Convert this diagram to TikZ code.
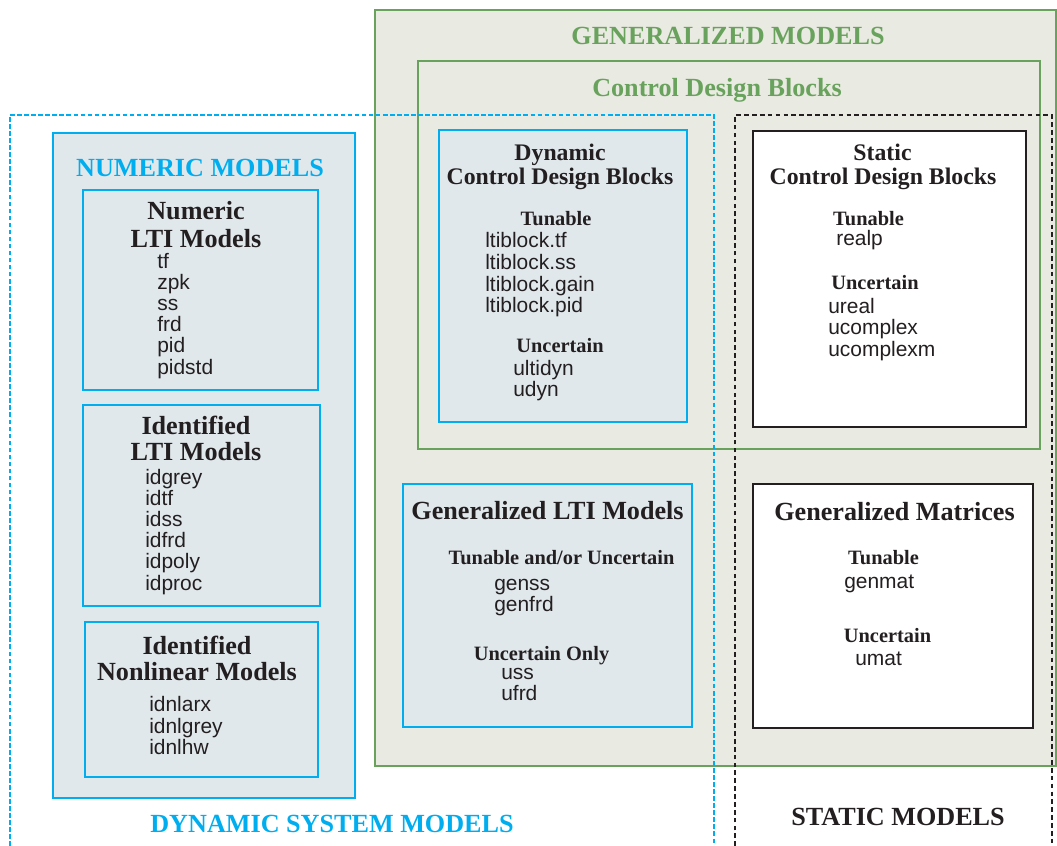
\documentclass[tikz,border=0pt]{standalone}
\usepackage{fontspec}
\setmainfont{Liberation Serif}
\setsansfont{Liberation Sans}
\usetikzlibrary{fit}
\definecolor{dsmblue}{RGB}{0,174,239}
\definecolor{genGreen}{RGB}{104,162,92}
\definecolor{genFill}{RGB}{233,234,225}
\definecolor{numFill}{RGB}{225,232,236}
\definecolor{inkdark}{RGB}{35,31,32}

\begin{document}
\begin{tikzpicture}[x=0.025cm, y=-0.025cm,
    genframe/.style={draw=genGreen, line width=1.5pt, fill=genFill, inner sep=0pt},
    cdbframe/.style={draw=genGreen, line width=1.5pt, inner sep=0pt},
    numframe/.style={draw=dsmblue, line width=2pt, fill=numFill, inner sep=0pt},
    statframe/.style={draw=inkdark, line width=2pt, fill=white, inner sep=0pt},
    dynline/.style={draw=dsmblue, line width=1.6pt, dash pattern=on 3.3pt off 1.7pt},
    statline/.style={draw=inkdark, line width=1.6pt, dash pattern=on 3.3pt off 2.3pt},
    bigtitle/.style={font=\bfseries\fontsize{18.6}{20}\selectfont, text=inkdark, inner sep=0pt, anchor=base},
    cdbtitle/.style={font=\bfseries\fontsize{16.9}{18}\selectfont, text=inkdark, inner sep=0pt, anchor=base},
    subhead/.style={font=\bfseries\fontsize{14.5}{16}\selectfont, text=inkdark, inner sep=0pt, anchor=base},
    item/.style={font=\sffamily\fontsize{14.9}{16}\selectfont, text=inkdark, inner sep=0pt, anchor=base west}
]
    \useasboundingbox (0,0) rectangle (1057,846);

    \node[genframe, fit={(375,10) (1056,766)}] (genmod) {};
    \node[cdbframe, fit={(418,61) (1040,449)}] (cdb) {};
    \node[bigtitle, text=genGreen] (genmodT) at (728,44.3) {GENERALIZED MODELS};
    \node[bigtitle, text=genGreen] (cdbT) at (717,96.7) {Control Design Blocks};

    \draw[dynline] (10,846) -- (10,115) -- (714,115) -- (714,846);
    \draw[statline] (735,846) -- (735,115) -- (1052,115) -- (1052,846);
    \node[bigtitle, text=dsmblue] (dsmT) at (332,832.7) {DYNAMIC SYSTEM MODELS};
    \node[bigtitle] (smT) at (898,825) {STATIC MODELS};

    \node[numframe, fit={(53,133) (355,798)}] (nummod) {};
    \node[bigtitle, text=dsmblue] (nummodT) at (200,176.7) {NUMERIC MODELS};

    \node[numframe, fit={(83,190) (318,390)}] (nlti) {};
    \node[bigtitle] (nltiA) at (196,220) {Numeric};
    \node[bigtitle] (nltiB) at (196,247) {LTI Models};
    \foreach \mdl [count=\i from 0] in {tf,zpk,ss,frd,pid,pidstd}
        \node[item] (nlti\i) at (157,268+21.2*\i) {\mdl};

    \node[numframe, fit={(83,405) (320,606)}] (idlti) {};
    \node[bigtitle] (idltiA) at (196,434) {Identified};
    \node[bigtitle] (idltiB) at (196,460.7) {LTI Models};
    \foreach \mdl [count=\i from 0] in {idgrey,idtf,idss,idfrd,idpoly,idproc}
        \node[item] (idlti\i) at (145,484+21.2*\i) {\mdl};

    \node[numframe, fit={(85,622) (318,777)}] (idnl) {};
    \node[bigtitle] (idnlA) at (197,654) {Identified};
    \node[bigtitle] (idnlB) at (197,680) {Nonlinear Models};
    \foreach \mdl [count=\i from 0] in {idnlarx,idnlgrey,idnlhw}
        \node[item] (idnl\i) at (149,711.7+21.3*\i) {\mdl};

    \node[numframe, fit={(439,130) (687,422)}] (dcb) {};
    \node[cdbtitle] (dcbA) at (560,160.7) {Dynamic};
    \node[cdbtitle] (dcbB) at (560,185) {Control Design Blocks};
    \node[subhead] (dcbTun) at (556,226) {Tunable};
    \foreach \mdl [count=\i from 0] in {ltiblock.tf,ltiblock.ss,ltiblock.gain,ltiblock.pid}
        \node[item] (dcbt\i) at (485,248+21.5*\i) {\mdl};
    \node[subhead] (dcbUnc) at (560,352.7) {Uncertain};
    \node[item] (dcbu0) at (513,375) {ultidyn};
    \node[item] (dcbu1) at (513,396) {udyn};

    \node[statframe, fit={(753,131) (1026,427)}] (scb) {};
    \node[cdbtitle] (scbA) at (882.5,160.7) {Static};
    \node[cdbtitle] (scbB) at (883,185) {Control Design Blocks};
    \node[subhead] (scbTun) at (868.5,226) {Tunable};
    \node[item] (scbt0) at (836,246) {realp};
    \node[subhead] (scbUnc) at (875,289) {Uncertain};
    \foreach \mdl [count=\i from 0] in {ureal,ucomplex,ucomplexm}
        \node[item] (scbu\i) at (828,313+21.5*\i) {\mdl};

    \node[numframe, fit={(403,484) (692,727)}] (glti) {};
    \node[bigtitle] (gltiT) at (547.5,519) {Generalized LTI Models};
    \node[subhead] (gltiTun) at (561.5,564) {Tunable and/or Uncertain};
    \node[item] (glt0) at (494,590.5) {genss};
    \node[item] (glt1) at (494,611.5) {genfrd};
    \node[subhead] (gltiUnc) at (541.5,660) {Uncertain Only};
    \node[item] (glu0) at (501,679) {uss};
    \node[item] (glu1) at (501,700) {ufrd};

    \node[statframe, fit={(753,484) (1033,728)}] (gmat) {};
    \node[bigtitle] (gmatT) at (894.5,520) {Generalized Matrices};
    \node[subhead] (gmatTun) at (883.5,564) {Tunable};
    \node[item] (gmt0) at (844,588) {genmat};
    \node[subhead] (gmatUnc) at (887.5,642) {Uncertain};
    \node[item] (gmu0) at (855,665) {umat};
\end{tikzpicture}
\end{document}
